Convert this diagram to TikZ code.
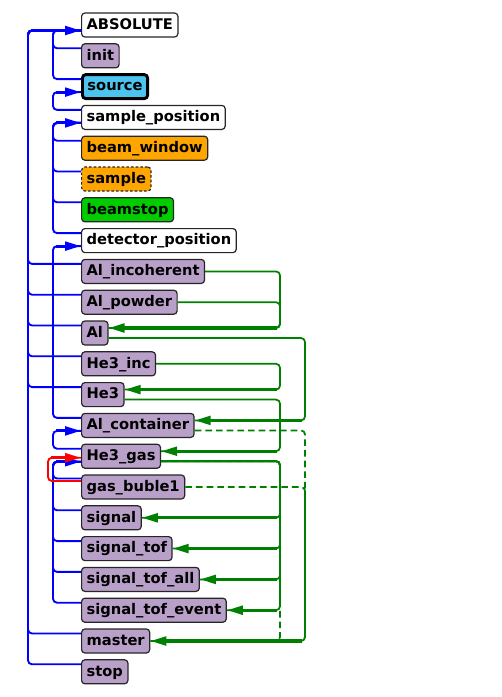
\documentclass[tikz,border=0pt]{standalone}
\usepackage{fontspec}
\setmainfont{DejaVu Sans}
\usetikzlibrary{arrows.meta,calc}
\definecolor{comppurple}{HTML}{B9A0C9}
\definecolor{srcblue}{HTML}{4DC3EF}
\definecolor{beamorange}{HTML}{FFA500}
\definecolor{wiregreen}{HTML}{008000}
\definecolor{stopgreen}{HTML}{00CC00}
\tikzset{>={Triangle[length=12pt,width=6.5pt]}}

\begin{document}
\begin{tikzpicture}[x=0.75pt,y=-0.75pt]
\useasboundingbox (0,0) rectangle (501,697);
\begin{scope}[every node/.style={anchor=west,draw=black!85,line width=0.9pt,rounded corners=2.5pt,fill=comppurple,
    font=\fontsize{11pt}{13pt}\selectfont\bfseries,text height=8.9pt,text depth=2.5pt,inner xsep=3.75pt,inner ysep=3pt,minimum height=18pt}]
\node[fill=white] (ABSOLUTE) at (81,25) {ABSOLUTE};
\node (init) at (81,55.8) {init};
\node[fill=srcblue,draw=black,line width=2.2pt] (source) at (81,86.6) {source};
\node[fill=white] (sample_position) at (81,117.4) {sample\_position};
\node[fill=beamorange] (beam_window) at (81,148.2) {beam\_window};
\node[fill=beamorange,dash pattern=on 2pt off 1.5pt] (sample) at (81,179) {sample};
\node[fill=stopgreen] (beamstop) at (81,209.8) {beamstop};
\node[fill=white] (detector_position) at (81,240.6) {detector\_position};
\node (Al_incoherent) at (81,271.4) {Al\_incoherent};
\node (Al_powder) at (81,302.2) {Al\_powder};
\node (Al) at (81,333) {Al};
\node (He3_inc) at (81,363.8) {He3\_inc};
\node (He3) at (81,394.6) {He3};
\node (Al_container) at (81,425.4) {Al\_container};
\node (He3_gas) at (81,456.2) {He3\_gas};
\node (gas_buble1) at (81,487) {gas\_buble1};
\node (signal) at (81,517.8) {signal};
\node (signal_tof) at (81,548.6) {signal\_tof};
\node (signal_tof_all) at (81,579.4) {signal\_tof\_all};
\node (signal_tof_event) at (81,610.2) {signal\_tof\_event};
\node (master) at (81,641) {master};
\node (stop) at (81,671.8) {stop};
\end{scope}
\begin{scope}[bl/.style={draw=blue,line width=1.4pt,rounded corners=3pt},
    bla/.style={draw=blue,line width=2.3pt,->},
    rd/.style={draw=red,line width=1.4pt,rounded corners=3pt},
    rda/.style={draw=red,line width=2.3pt,->},
    gr/.style={draw=wiregreen,line width=1.3pt,rounded corners=3pt},
    gd/.style={gr,dash pattern=on 5pt off 3pt},
    gra/.style={draw=wiregreen,line width=2.3pt,->}]

    % placement, left side
    \path[bl] ($(init.west)+(0,-7.5)$) -| (53,30.5) -- ($(ABSOLUTE.west)+(0,5.5)$);
    \path[bl] ($(source.west)+(0,-7.5)$) -| (53,30.5) -- ($(ABSOLUTE.west)+(0,5.5)$);
    \path[bl] ($(sample_position.west)+(0,-7.5)$) -| (53,92.1) -- ($(source.west)+(0,5.5)$);
    \path[bl] ($(beam_window.west)+(0,-7.5)$) -| (53,122.9) -- ($(sample_position.west)+(0,5.5)$);
    \path[bl] ($(sample.west)+(0,-7.5)$) -| (53,122.9) -- ($(sample_position.west)+(0,5.5)$);
    \path[bl] ($(beamstop.west)+(0,-7.5)$) -| (53,122.9) -- ($(sample_position.west)+(0,5.5)$);
    \path[bl] ($(detector_position.west)+(0,-7.5)$) -| (53,122.9) -- ($(sample_position.west)+(0,5.5)$);
    \path[bl] ($(Al_container.west)+(0,-7.5)$) -| (53,246.1) -- ($(detector_position.west)+(0,5.5)$);
    \path[bl] ($(He3_gas.west)+(0,-7.5)$) -| (53,430.9) -- ($(Al_container.west)+(0,5.5)$);
    \path[bl] ($(gas_buble1.west)+(0,-8.5)$) -| (53,461.7) -- ($(He3_gas.west)+(0,5.5)$);
    \path[bl] ($(signal.west)+(0,-7.5)$) -| (53,461.7) -- ($(He3_gas.west)+(0,5.5)$);
    \path[bl] ($(signal_tof.west)+(0,-7.5)$) -| (53,461.7) -- ($(He3_gas.west)+(0,5.5)$);
    \path[bl] ($(signal_tof_all.west)+(0,-7.5)$) -| (53,461.7) -- ($(He3_gas.west)+(0,5.5)$);
    \path[bl] ($(signal_tof_event.west)+(0,-7.5)$) -| (53,461.7) -- ($(He3_gas.west)+(0,5.5)$);

    \path[bl] ($(Al_incoherent.west)+(0,-7.5)$) -| (28,30.5) -- ($(ABSOLUTE.west)+(0,5.5)$);
    \path[bl] ($(Al_powder.west)+(0,-7.5)$) -| (28,30.5) -- ($(ABSOLUTE.west)+(0,5.5)$);
    \path[bl] ($(Al.west)+(0,-7.5)$) -| (28,30.5) -- ($(ABSOLUTE.west)+(0,5.5)$);
    \path[bl] ($(He3_inc.west)+(0,-7.5)$) -| (28,30.5) -- ($(ABSOLUTE.west)+(0,5.5)$);
    \path[bl] ($(He3.west)+(0,-7.5)$) -| (28,30.5) -- ($(ABSOLUTE.west)+(0,5.5)$);
    \path[bl] ($(master.west)+(0,-7.5)$) -| (28,30.5) -- ($(ABSOLUTE.west)+(0,5.5)$);
    \path[bl] ($(stop.west)+(0,-7.5)$) -| (28,30.5) -- ($(ABSOLUTE.west)+(0,5.5)$);

    \path[rd] ($(gas_buble1.west)+(0,-6)$) -| (48,457.7) -- ($(He3_gas.west)+(0,1.5)$);

    \coordinate (inABS) at (31,30.5);
    \coordinate (inSrc) at (56,92.1);
    \coordinate (inSP) at (56,122.9);
    \coordinate (inDP) at (56,246.1);
    \coordinate (inAC) at (56,430.9);
    \coordinate (inHG) at (56,461.7);
    \coordinate (inHGr) at (51,457.7);
    \path[bla] (inABS) -- (inABS -| ABSOLUTE.west);
    \path[bla] (inSrc) -- (inSrc -| source.west);
    \path[bla] (inSP) -- (inSP -| sample_position.west);
    \path[bla] (inDP) -- (inDP -| detector_position.west);
    \path[bla] (inAC) -- (inAC -| Al_container.west);
    \path[bla] (inHG) -- (inHG -| He3_gas.west);
    \path[rda] (inHGr) -- (inHGr -| He3_gas.west);

    % data flow, right side
    \path[gr] (Al_incoherent.east) -| (280,328) -- ($(Al.east)+(0,-5)$);
    \path[gr] (Al_powder.east) -| (280,328) -- ($(Al.east)+(0,-5)$);
    \path[gr] ($(Al.east)+(0,5)$) -| (305,420.4) -- ($(Al_container.east)+(0,-5)$);
    \path[gr] (He3_inc.east) -| (280,389.6) -- ($(He3.east)+(0,-5)$);
    \path[gr] ($(He3.east)+(0,5)$) -| (280,451.2) -- ($(He3_gas.east)+(0,-5)$);
    \path[gr] ($(He3_gas.east)+(0,5)$) -| (280,517.8) -- (signal.east);
    \path[gr] ($(He3_gas.east)+(0,5)$) -| (280,548.6) -- (signal_tof.east);
    \path[gr] ($(He3_gas.east)+(0,5)$) -| (280,579.4) -- (signal_tof_all.east);
    \path[gr] ($(He3_gas.east)+(0,5)$) -| (280,610.2) -- (signal_tof_event.east);
    \path[gd] ($(He3_gas.east)+(0,5)$) -| (280,641) -- (master.east);
    \path[gd] ($(Al_container.east)+(0,5)$) -| (305,641) -- (master.east);
    \path[gd] (gas_buble1.east) -| (305,641) -- (master.east);

    \coordinate (inAl) at (277,328);
    \coordinate (inAC2) at (302,420.4);
    \coordinate (inHe3) at (277,389.6);
    \coordinate (inHG2) at (277,451.2);
    \coordinate (inSig) at (277,517.8);
    \coordinate (inTof) at (277,548.6);
    \coordinate (inAll) at (277,579.4);
    \coordinate (inEvt) at (277,610.2);
    \coordinate (inMst) at (302,641);
    \path[gra] (inAl) -- (inAl -| Al.east);
    \path[gra] (inAC2) -- (inAC2 -| Al_container.east);
    \path[gra] (inHe3) -- (inHe3 -| He3.east);
    \path[gra] (inHG2) -- (inHG2 -| He3_gas.east);
    \path[gra] (inSig) -- (inSig -| signal.east);
    \path[gra] (inTof) -- (inTof -| signal_tof.east);
    \path[gra] (inAll) -- (inAll -| signal_tof_all.east);
    \path[gra] (inEvt) -- (inEvt -| signal_tof_event.east);
    \path[gra] (inMst) -- (inMst -| master.east);
\end{scope}
\end{tikzpicture}
\end{document}
